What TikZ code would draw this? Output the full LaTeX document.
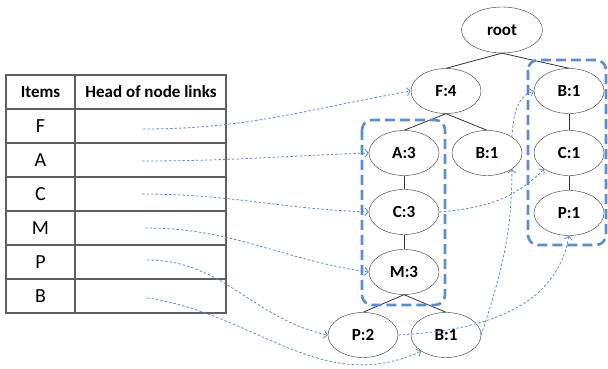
\documentclass[tikz,border=0pt]{standalone}
\usepackage{fontspec}
\setmainfont{Carlito}
\usetikzlibrary{shapes.geometric, arrows.meta}

\definecolor{linkblue}{RGB}{88,142,213}
\definecolor{gridgray}{RGB}{95,95,95}

\tikzset{
	tnode/.style={draw=black!80, ellipse, minimum width=70pt, minimum height=45pt,
		inner sep=0pt, font=\fontsize{17}{17}\bfseries\selectfont},
	tedge/.style={draw=black!80, line width=0.8pt},
	nlink/.style={draw=linkblue, line width=0.8pt, dash pattern=on 2.5pt off 2pt,
		-{Straight Barb[length=3.5pt,width=8pt]}},
	pbox/.style={draw=linkblue, line width=2.6pt, dash pattern=on 10pt off 5pt,
		rounded corners=10pt},
	grid/.style={draw=gridgray, line width=1.6pt},
	cellhead/.style={font=\fontsize{17}{17}\bfseries\selectfont},
	cellitem/.style={font=\fontsize{20}{20}\selectfont}
}

\begin{document}
\begin{tikzpicture}[x=1pt, y=1pt]
	\useasboundingbox (0,0) rectangle (608,369);

	% header table
	\draw[grid] (6,56) rectangle (226,294);
	\foreach \y in {90,124,...,260}
		\draw[grid] (6,\y) -- (226,\y);
	\draw[grid] (75,56) -- (75,294);
	\node[cellhead] (hitems) at (40.5,277) {Items};
	\node[cellhead] (hlinks) at (151,277) {Head of node links};
	\foreach \lbl [count=\i] in {F,A,C,M,P,B}
		\node[cellitem] (item\lbl) at (40.5,{277-34*\i}) {\lbl};

	% link heads inside the table
	\coordinate (lF) at (143,240);
	\coordinate (lA) at (142,208);
	\coordinate (lC) at (142,175);
	\coordinate (lM) at (145,141);
	\coordinate (lP) at (147,109);
	\coordinate (lB) at (147,71);

	% fp-tree
	\node[tnode, minimum width=81pt, minimum height=46pt] (root) at (502,339) {root};
	\node[tnode] (f4) at (446,278) {F:4};
	\node[tnode] (b1a) at (569,278) {B:1};
	\node[tnode] (a3) at (404,216) {A:3};
	\node[tnode] (b1b) at (487,216) {B:1};
	\node[tnode] (c1) at (569,216) {C:1};
	\node[tnode] (c3) at (404,157) {C:3};
	\node[tnode] (p1) at (569,156) {P:1};
	\node[tnode] (m3) at (404,97) {M:3};
	\node[tnode] (p2) at (363,34) {P:2};
	\node[tnode] (b1c) at (446,34) {B:1};

	\draw[tedge] (root.south) -- (f4.north);
	\draw[tedge] (root.south) -- (b1a.north);
	\draw[tedge] (f4.south) -- (a3.north);
	\draw[tedge] (f4.south) -- (b1b.north);
	\draw[tedge] (a3) -- (c3);
	\draw[tedge] (c3) -- (m3);
	\draw[tedge] (b1a) -- (c1);
	\draw[tedge] (c1) -- (p1);
	\draw[tedge] (m3.south) -- (p2.north);
	\draw[tedge] (m3.south) -- (b1c.north);

	% prefix paths
	\draw[pbox] (362,249) rectangle (445,64);
	\draw[pbox] (528,309) rectangle (606,124);

	% node links
	\draw[nlink] (lF) to[out=0, in=190] (f4.west);
	\draw[nlink] (lA) to[out=0, in=182] (a3.west);
	\draw[nlink] (lC) to[out=0, in=178] (c3.west);
	\draw[nlink] (lM) to[out=0, in=172] (m3.west);
	\draw[nlink] (lP) to[out=0, in=168] (p2.west);
	\draw[nlink] (lB) to[out=-8, in=205] (b1c.south west);
	\draw[nlink] (p2.east) to[out=3, in=-100] (p1.south);
	\draw[nlink] (b1c.east) to[out=72, in=-90] (b1b.south east);
	\draw[nlink] (b1b.north east) to[out=85, in=200] (b1a.west);
	\draw[nlink] (c3.east) to[out=5, in=225] (c1.south west);
\end{tikzpicture}
\end{document}
